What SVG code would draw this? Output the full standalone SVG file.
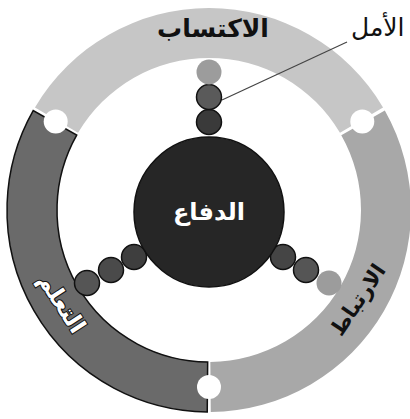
<svg xmlns="http://www.w3.org/2000/svg" width="410" height="419" viewBox="0 0 410 419">
<style>
.lbl{font-family:"DejaVu Sans","Noto Sans",sans-serif;font-weight:bold;text-anchor:middle}
.bead{stroke:#111;stroke-width:1.5}
.notch{fill:#fff}
</style>
<rect width="410" height="419" fill="#fff"/>
<g id="ring-top">
<path d="M34.95,107.48 A202,202 0 0 1 383.05,107.48 L339.97,132.85 A152,152 0 0 0 78.03,132.85 Z" fill="#c6c6c6"/>
<text class="lbl" x="213" y="37" font-size="25" fill="#111">الاكتساب</text>
</g>
<g id="ring-right">
<path d="M384.81,110.53 A202,202 0 0 1 210.76,411.99 L210.33,361.99 A152,152 0 0 0 341.29,135.15 Z" fill="#a8a8a8"/>
<text class="lbl" x="0" y="0" font-size="21" fill="#111" dominant-baseline="central" transform="translate(358,300) rotate(-56)">الارتباط</text>
</g>
<g id="ring-left">
<path d="M207.24,411.99 A202,202 0 0 1 33.19,110.53 L76.71,135.15 A152,152 0 0 0 207.67,361.99 Z" fill="#6a6a6a" stroke="#111" stroke-width="1.5"/>
<text class="lbl" x="0" y="0" font-size="23" fill="#fff" stroke="#111" stroke-width="2" paint-order="stroke" dominant-baseline="central" transform="translate(62,303) rotate(57)">التعلم</text>
</g>
<g id="notches">
<circle class="notch" cx="55.7" cy="121.5" r="12"/>
<circle class="notch" cx="362.3" cy="121.5" r="12"/>
<circle class="notch" cx="209" cy="387" r="12"/>
</g>
<g id="connectors">
<line x1="347" y1="42" x2="222" y2="100" stroke="#444" stroke-width="1.2"/>
</g>
<g id="beads-top">
<circle class="bead" cx="209" cy="122" r="12.5" fill="#3a3a3a"/>
<circle class="bead" cx="209" cy="97" r="12.5" fill="#5a5a5a"/>
<circle cx="209" cy="72" r="12.5" fill="#9c9c9c"/>
</g>
<g id="beads-right">
<circle class="bead" cx="283" cy="257" r="12.5" fill="#454545"/>
<circle class="bead" cx="306" cy="270" r="12.5" fill="#555"/>
<circle cx="329" cy="283" r="12.5" fill="#9c9c9c"/>
</g>
<g id="beads-left">
<circle class="bead" cx="134" cy="257" r="12.5" fill="#3e3e3e"/>
<circle class="bead" cx="111" cy="270" r="12.5" fill="#4a4a4a"/>
<circle class="bead" cx="87" cy="283" r="12.5" fill="#555"/>
</g>
<g id="center">
<circle cx="209" cy="212" r="75" fill="#262626" stroke="#111" stroke-width="1.5"/>
<text class="lbl" x="209" y="220" font-size="24" fill="#fff">الدفاع</text>
</g>
<g id="hope">
<text x="351" y="36" font-family="DejaVu Sans, sans-serif" font-size="25" fill="#111">الأمل</text>
</g>
</svg>
